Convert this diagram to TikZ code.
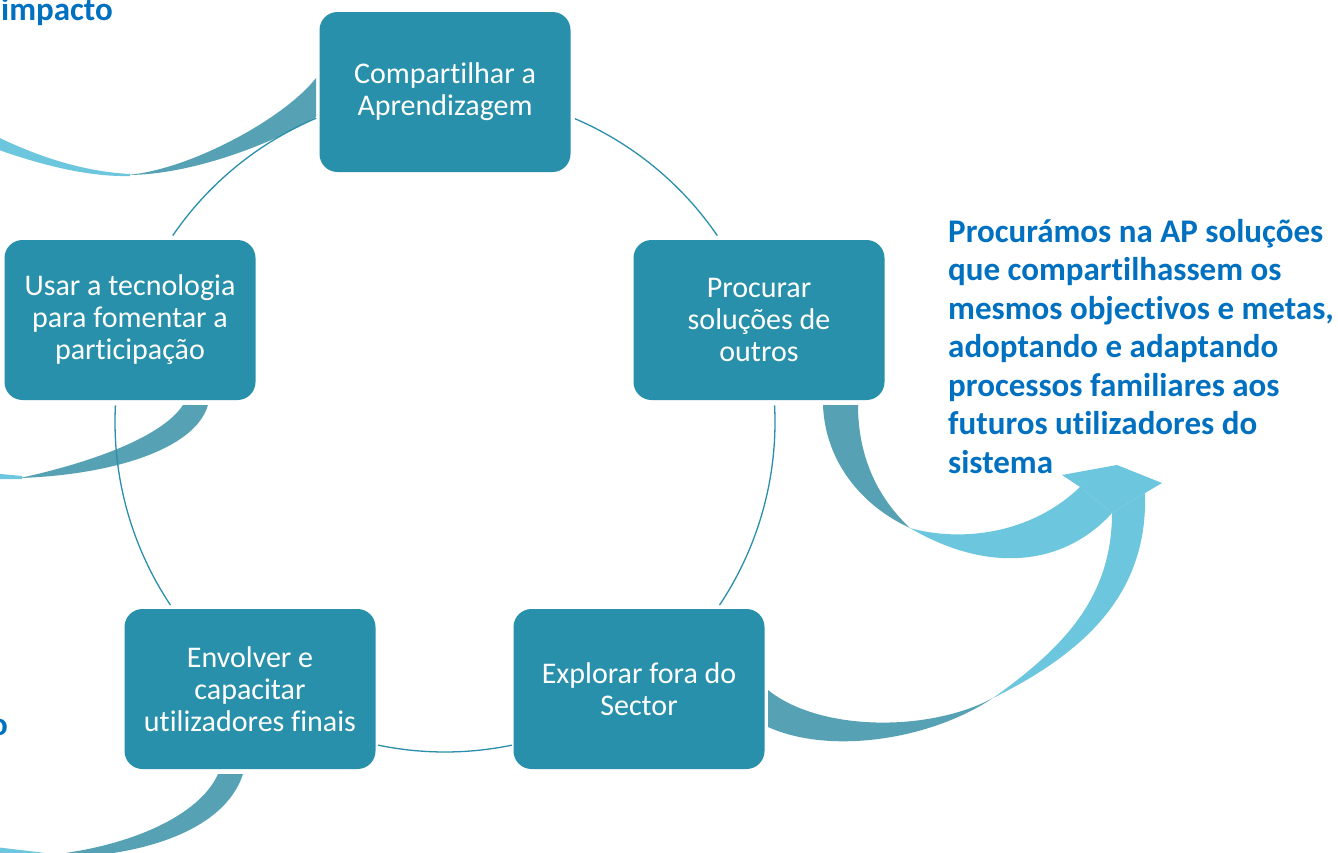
\documentclass[tikz,border=0pt]{standalone}
\usepackage{fontspec}
\setmainfont{Carlito}[Ligatures={NoCommon}]
\definecolor{boxc}{HTML}{2890AA}
\definecolor{ringc}{HTML}{2A8FAA}
\definecolor{darkarr}{HTML}{56A2B4}
\definecolor{lightarr}{HTML}{6CC6DE}
\definecolor{bluetxt}{HTML}{0070C0}
\begin{document}
\begin{tikzpicture}[x=1pt,y=1pt,yscale=-1,
  stepbox/.style={rectangle, rounded corners=18pt, fill=boxc, minimum width=251pt,
    minimum height=160pt, text=white, align=center, inner sep=0pt,
    font=\fontsize{30}{32}\selectfont},
  ringline/.style={draw=ringc, line width=1.3pt},
  darkband/.style={fill=darkarr},
  lightband/.style={fill=lightarr},
  bluetext/.style={text=bluetxt, font=\fontsize{33}{38.5}\selectfont\bfseries, inner sep=0pt}]
\useasboundingbox (0,0) rectangle (1338,852);
\clip (0,0) rectangle (1338,852);
\fill[white] (0,0) rectangle (1338,852);

% decorative curved arrows on the left (partly outside the picture)
\path[darkband] (316,78) .. controls (285,118) and (190,170) .. (127,175)
  .. controls (190,175) and (270,145) .. (316,117) -- cycle;
\path[lightband] (130,174) .. controls (90,172) and (40,160) .. (-20,128)
  -- (-20,143) .. controls (40,166) and (90,177) .. (130,176) -- cycle;
\path[darkband] (183,405) -- (208,405) .. controls (195,450) and (110,475) .. (20,478)
  .. controls (80,465) and (160,440) .. (183,405) -- cycle;
\path[lightband] (22,476) -- (-10,473) -- (-10,479) -- (22,479) -- cycle;
\path[darkband] (218,774) -- (243,774) .. controls (228,820) and (170,848) .. (90,856)
  -- (40,856) .. controls (130,848) and (200,815) .. (218,774) -- cycle;
\path[lightband] (45,853) .. controls (30,851) and (10,849) .. (-20,845) -- (-20,870) -- (45,870) -- cycle;

% decorative curved arrows on the right
\path[darkband] (823,405) -- (858,405) .. controls (858,460) and (880,500) .. (910,528)
  .. controls (860,505) and (825,460) .. (823,405) -- cycle;
\path[lightband] (910,528) .. controls (960,542) and (1030,535) .. (1080,487)
  -- (1112,513) .. controls (1065,565) and (990,575) .. (910,528) -- cycle;
\path[darkband] (768,690) .. controls (820,732) and (930,732) .. (993,698)
  .. controls (930,740) and (830,755) .. (768,727) -- cycle;
\path[lightband] (993,698) .. controls (1060,650) and (1112,600) .. (1112,513)
  -- (1145,493) .. controls (1148,590) and (1090,650) .. (993,698) -- cycle;
\path[lightband] (1080,487) -- (1062,475) -- (1117,465) -- (1122,467) -- (1162,483)
  -- (1145,493) -- (1112,513) -- cycle;

% cycle ring
\coordinate (ring) at (445,422);
\draw[ringline] (ring) ++(-66.8:330) arc[start angle=-66.8, end angle=-34.4, radius=330];
\draw[ringline] (ring) ++(-2.9:330) arc[start angle=-2.9, end angle=33.7, radius=330];
\draw[ringline] (ring) ++(78.3:330) arc[start angle=78.3, end angle=101.7, radius=330];
\draw[ringline] (ring) ++(146.3:330) arc[start angle=146.3, end angle=182.9, radius=330];
\draw[ringline] (ring) ++(-145.6:330) arc[start angle=-145.6, end angle=-113, radius=330];

% steps
\node[stepbox] (comp) at (445,92) {Compartilhar a\\Aprendizagem};
\node[stepbox] (proc) at (759,320) {Procurar\\soluções de\\outros};
\node[stepbox] (expl) at (639,689) {Explorar fora do\\Sector};
\node[stepbox] (envo) at (250,689) {Envolver e\\capacitar\\utilizadores finais};
\node[stepbox] (usar) at (130,320) {Usar a tecnologia\\para fomentar a\\participação};

% texts
\node[bluetext, align=left, anchor=north west] (note) at (948,219)
  {Procurámos na AP soluções\\que compartilhassem os\\mesmos objectivos e metas,\\adoptando e adaptando\\processos familiares aos\\futuros utilizadores do\\sistema};
\node[bluetext, anchor=base west] (imp) at (1,20) {impacto};
\node[bluetext, anchor=base east] (oend) at (8,735) {o};
\end{tikzpicture}
\end{document}
